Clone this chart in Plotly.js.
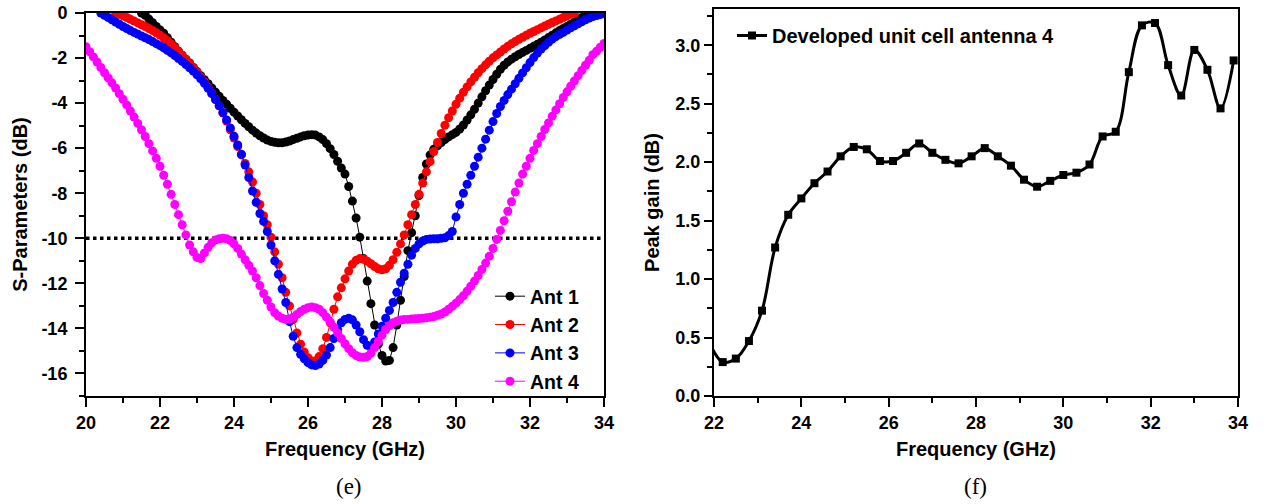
<!DOCTYPE html>
<html>
<head>
<meta charset="utf-8">
<script src="https://cdn.plot.ly/plotly-3.0.1.min.js"></script>
<style>html,body{margin:0;padding:0;background:#fff;}#chart{width:1265px;height:504px;}</style>
</head>
<body>
<div id="chart"></div>
<script>
// ---------- Data: panel (e) S-parameters ----------
const freq = [20.0,20.1,20.2,20.3,20.4,20.5,20.6,20.7,20.8,20.9,
21.0,21.1,21.2,21.3,21.4,21.5,21.6,21.7,21.8,21.9,
22.0,22.1,22.2,22.3,22.4,22.5,22.6,22.7,22.8,22.9,
23.0,23.1,23.2,23.3,23.4,23.5,23.6,23.7,23.8,23.9,
24.0,24.1,24.2,24.3,24.4,24.5,24.6,24.7,24.8,24.9,
25.0,25.1,25.2,25.3,25.4,25.5,25.6,25.7,25.8,25.9,
26.0,26.1,26.2,26.3,26.4,26.5,26.6,26.7,26.8,26.9,
27.0,27.1,27.2,27.3,27.4,27.5,27.6,27.7,27.8,27.9,
28.0,28.1,28.2,28.3,28.4,28.5,28.6,28.7,28.8,28.9,
29.0,29.1,29.2,29.3,29.4,29.5,29.6,29.7,29.8,29.9,
30.0,30.1,30.2,30.3,30.4,30.5,30.6,30.7,30.8,30.9,
31.0,31.1,31.2,31.3,31.4,31.5,31.6,31.7,31.8,31.9,
32.0,32.1,32.2,32.3,32.4,32.5,32.6,32.7,32.8,32.9,
33.0,33.1,33.2,33.3,33.4,33.5,33.6,33.7,33.8,33.9,
34.0];

const ant1 = [null,null,null,null,null,null,null,null,null,null,
null,null,null,null,null,0,-0.1,-0.27,-0.43,-0.6,
-0.75,-0.9,-1.1,-1.3,-1.5,-1.7,-1.88,-2.05,-2.22,-2.42,
-2.6,-2.78,-2.96,-3.14,-3.33,-3.52,-3.7,-3.88,-4.05,-4.23,
-4.4,-4.57,-4.74,-4.9,-5.05,-5.2,-5.33,-5.45,-5.55,-5.64,
-5.7,-5.74,-5.76,-5.76,-5.73,-5.68,-5.62,-5.56,-5.5,-5.45,
-5.42,-5.4,-5.42,-5.5,-5.62,-5.8,-6.02,-6.28,-6.58,-6.88,
-7.15,-7.7,-8.35,-9.1,-9.95,-10.9,-11.9,-12.9,-13.85,-14.7,
-15.2,-15.45,-15.42,-14.85,-13.85,-12.75,-11.7,-10.55,-9.75,-9.0,
-8.1,-7.3,-6.7,-6.3,-6.05,-5.9,-5.75,-5.62,-5.5,-5.4,
-5.3,-5.15,-4.97,-4.75,-4.52,-4.27,-4.0,-3.72,-3.45,-3.2,
-2.95,-2.72,-2.5,-2.32,-2.17,-2.05,-1.94,-1.84,-1.75,-1.66,
-1.57,-1.48,-1.39,-1.3,-1.2,-1.09,-0.99,-0.88,-0.78,-0.69,
-0.6,-0.5,-0.4,-0.3,-0.2,-0.12,-0.05,0,null,null,
null];

const ant2 = [null,null,null,null,null,null,null,null,0,-0.06,
-0.13,-0.2,-0.28,-0.36,-0.44,-0.52,-0.6,-0.69,-0.78,-0.88,
-0.98,-1.1,-1.23,-1.37,-1.53,-1.7,-1.88,-2.06,-2.24,-2.43,
-2.63,-2.84,-3.06,-3.3,-3.56,-3.83,-4.12,-4.44,-4.8,-5.18,
-5.55,-5.93,-6.3,-6.68,-7.05,-7.5,-8.0,-8.5,-9.0,-9.4,
-9.95,-10.6,-11.15,-11.75,-12.4,-13.0,-13.6,-14.2,-14.7,-15.05,
-15.3,-15.45,-15.45,-15.25,-14.9,-14.4,-13.75,-13.15,-12.6,-12.2,
-11.8,-11.45,-11.15,-10.98,-10.9,-10.93,-11.02,-11.13,-11.25,-11.35,
-11.4,-11.35,-11.2,-10.95,-10.62,-10.25,-9.85,-9.4,-8.95,-8.5,
-8.05,-7.55,-7.05,-6.6,-6.15,-5.75,-5.35,-4.98,-4.65,-4.35,
-4.05,-3.78,-3.52,-3.28,-3.06,-2.85,-2.65,-2.47,-2.3,-2.14,
-1.99,-1.86,-1.73,-1.6,-1.48,-1.37,-1.27,-1.17,-1.08,-0.99,
-0.9,-0.82,-0.74,-0.66,-0.58,-0.5,-0.42,-0.35,-0.28,-0.2,
-0.13,-0.06,0,null,null,null,null,null,null,null,
null];

const ant3 = [null,null,null,null,0,-0.1,-0.2,-0.3,-0.4,-0.5,
-0.6,-0.69,-0.78,-0.86,-0.94,-1.02,-1.1,-1.18,-1.27,-1.36,
-1.45,-1.55,-1.66,-1.77,-1.89,-2.02,-2.15,-2.29,-2.43,-2.58,
-2.74,-2.92,-3.12,-3.34,-3.58,-3.84,-4.12,-4.42,-4.75,-5.1,
-5.47,-5.86,-6.27,-6.75,-7.3,-7.9,-8.4,-8.9,-9.25,-9.7,
-10.3,-11.0,-11.6,-12.25,-12.85,-13.7,-14.35,-14.85,-15.15,-15.35,
-15.52,-15.62,-15.65,-15.58,-15.42,-15.18,-14.85,-14.45,-14.05,-13.75,
-13.6,-13.55,-13.62,-13.85,-14.15,-14.5,-14.75,-14.82,-14.6,-14.25,
-13.9,-13.55,-13.2,-12.85,-12.4,-11.95,-11.55,-11.15,-10.75,-10.45,
-10.25,-10.12,-10.05,-10.03,-10.02,-10.02,-10.0,-9.98,-9.88,-9.7,
-9.05,-8.5,-8.0,-7.6,-7.2,-6.8,-6.4,-6.0,-5.6,-5.2,
-4.82,-4.46,-4.15,-3.88,-3.62,-3.38,-3.14,-2.9,-2.66,-2.43,
-2.2,-1.98,-1.78,-1.6,-1.45,-1.3,-1.16,-1.05,-0.95,-0.86,
-0.76,-0.66,-0.57,-0.48,-0.39,-0.3,-0.22,-0.16,-0.11,-0.07,
-0.03];

const ant4 = [-1.5,-1.72,-1.95,-2.18,-2.42,-2.65,-2.88,-3.1,-3.33,-3.58,
-3.83,-4.08,-4.35,-4.62,-4.9,-5.18,-5.48,-5.8,-6.12,-6.45,
-6.8,-7.2,-7.6,-8.05,-8.5,-8.95,-9.4,-9.85,-10.3,-10.6,
-10.85,-10.9,-10.65,-10.4,-10.2,-10.08,-10.02,-10.0,-10.02,-10.1,
-10.25,-10.45,-10.7,-10.95,-11.2,-11.45,-11.75,-12.1,-12.45,-12.75,
-13.05,-13.3,-13.45,-13.55,-13.6,-13.58,-13.5,-13.38,-13.25,-13.15,
-13.08,-13.05,-13.08,-13.15,-13.3,-13.5,-13.72,-13.95,-14.2,-14.45,
-14.68,-14.9,-15.08,-15.2,-15.27,-15.28,-15.25,-15.1,-14.85,-14.58,
-14.3,-14.05,-13.88,-13.75,-13.68,-13.63,-13.6,-13.6,-13.58,-13.57,
-13.56,-13.55,-13.53,-13.5,-13.47,-13.42,-13.36,-13.27,-13.15,-13.02,
-12.88,-12.72,-12.55,-12.35,-12.13,-11.9,-11.65,-11.38,-11.1,-10.8,
-10.45,-10.05,-9.65,-9.22,-8.8,-8.38,-7.95,-7.55,-7.15,-6.8,
-6.45,-6.1,-5.8,-5.48,-5.17,-4.88,-4.58,-4.3,-4.03,-3.75,
-3.5,-3.25,-3.02,-2.78,-2.55,-2.32,-2.1,-1.85,-1.7,-1.52,
-1.35];

const seriesNames = ['Ant 1','Ant 2','Ant 3','Ant 4'];
const seriesColors = ['#000000','#ff0000','#0000ff','#ff00ff'];
const refLevel = -10;

const sTickVals = [0,-2,-4,-6,-8,-10,-12,-14,-16];
const sTickText = ['0','-2','-4','-6','-8','-10','-12','-14','-16'];
const fTickVals = [20,22,24,26,28,30,32,34];

// ---------- Data: panel (f) peak gain ----------
const gainFreq = [21.9,22.2,22.5,22.8,23.1,23.4,23.7,24.0,24.3,24.6,
24.9,25.2,25.5,25.8,26.1,26.4,26.7,27.0,27.3,27.6,
27.9,28.2,28.5,28.8,29.1,29.4,29.7,30.0,30.3,30.6,
30.9,31.2,31.5,31.8,32.1,32.4,32.7,33.0,33.3,33.6,
33.9];
const gain = [0.45,0.29,0.32,0.47,0.73,1.27,1.55,1.69,1.82,1.92,
2.05,2.13,2.11,2.01,2.01,2.08,2.16,2.08,2.02,1.99,
2.05,2.12,2.05,1.97,1.85,1.79,1.84,1.89,1.91,1.98,
2.22,2.26,2.77,3.17,3.19,2.83,2.57,2.96,2.79,2.46,
2.87];
const gainName = 'Developed unit cell antenna 4';
const gTickVals = [22,24,26,28,30,32,34];

// ---------- Build ----------
const FONT = 'Arial, "Liberation Sans", sans-serif';
const W = 1265, H = 504;
const sData = [ant1, ant2, ant3, ant4];

const traces = sData.map((ys, i) => ({
  type: 'scatter', mode: 'lines+markers',
  x: freq, y: ys, name: seriesNames[i],
  xaxis: 'x', yaxis: 'y', legend: 'legend',
  line: {color: seriesColors[i], width: 1},
  marker: {color: seriesColors[i], size: 9, symbol: 'circle', line: {width: 0}},
  connectgaps: false
}));

traces.push({
  type: 'scatter', mode: 'lines+markers',
  x: gainFreq, y: gain, name: gainName,
  xaxis: 'x2', yaxis: 'y2', legend: 'legend2',
  line: {color: '#000', width: 3, shape: 'spline', smoothing: 1},
  marker: {color: '#000', size: 8, symbol: 'square', line: {width: 0}}
});

const tickFont = {family: FONT, size: 18, weight: 'bold', color: '#000'};
const titleFont = {family: FONT, size: 20, weight: 'bold', color: '#000'};
const axisBase = {
  showgrid: false, zeroline: false, showline: true, linecolor: '#000', linewidth: 2,
  mirror: true, ticks: 'outside', ticklen: 9, tickwidth: 2, tickcolor: '#000',
  tickfont: tickFont, automargin: false
};

const layout = {
  width: W, height: H,
  margin: {l: 0, r: 0, t: 0, b: 0},
  paper_bgcolor: '#fff', plot_bgcolor: '#fff',
  font: {family: FONT, color: '#000'},
  showlegend: true,
  xaxis: Object.assign({}, axisBase, {
    domain: [86 / W, 604 / W], range: [20, 34], anchor: 'y',
    tickmode: 'array', tickvals: fTickVals,
    minor: {dtick: 1, tick0: 20, ticks: 'outside', ticklen: 5, tickwidth: 2, tickcolor: '#000'},
    title: {text: 'Frequency (GHz)', font: titleFont, standoff: 10}
  }),
  yaxis: Object.assign({}, axisBase, {
    domain: [1 - 396 / H, 1 - 13 / H], range: [-17, 0], anchor: 'x',
    tickmode: 'array', tickvals: sTickVals, ticktext: sTickText,
    ticklabelstandoff: 4,
    minor: {dtick: 1, tick0: 0, ticks: 'outside', ticklen: 5, tickwidth: 2, tickcolor: '#000'},
    title: {text: 'S-Parameters (dB)', font: titleFont, standoff: 8}
  }),
  xaxis2: Object.assign({}, axisBase, {
    domain: [714 / W, 1238 / W], range: [22, 34], anchor: 'y2',
    tickmode: 'array', tickvals: gTickVals,
    minor: {dtick: 1, tick0: 22, ticks: 'outside', ticklen: 5, tickwidth: 2, tickcolor: '#000'},
    title: {text: 'Frequency (GHz)', font: titleFont, standoff: 10}
  }),
  yaxis2: Object.assign({}, axisBase, {
    domain: [1 - 396 / H, 1 - 9 / H], range: [0, 3.31], anchor: 'x2',
    dtick: 0.5, tick0: 0, tickformat: '.1f', ticklen: 8,
    minor: {dtick: 0.25, ticks: 'outside', ticklen: 5, tickwidth: 2, tickcolor: '#000'},
    title: {text: 'Peak gain (dB)', font: titleFont, standoff: 10}
  }),
  legend: {
    x: 490 / W, xanchor: 'left', y: 1 - 277 / H, yanchor: 'top',
    bgcolor: 'rgba(0,0,0,0)', borderwidth: 0,
    font: {family: FONT, size: 19.5, weight: 'bold', color: '#000'}
  },
  legend2: {
    x: 732 / W, xanchor: 'left', y: 1 - 16 / H, yanchor: 'top',
    bgcolor: 'rgba(0,0,0,0)', borderwidth: 0,
    font: {family: FONT, size: 20, weight: 'bold', color: '#000'}
  },
  shapes: [{
    type: 'line', xref: 'x', yref: 'y', x0: 20, x1: 34, y0: refLevel, y1: refLevel,
    layer: 'below', line: {color: '#000', width: 3.5, dash: 'dot'}
  }],
  annotations: [
    {text: '(e)', xref: 'paper', yref: 'paper', x: 349 / W, y: 1 - 486 / H,
     xanchor: 'center', yanchor: 'middle', showarrow: false,
     font: {family: '"Times New Roman", "Liberation Serif", serif', size: 23, color: '#000'}},
    {text: '(f)', xref: 'paper', yref: 'paper', x: 975 / W, y: 1 - 486 / H,
     xanchor: 'center', yanchor: 'middle', showarrow: false,
     font: {family: '"Times New Roman", "Liberation Serif", serif', size: 23, color: '#000'}}
  ]
};

Plotly.newPlot('chart', traces, layout, {staticPlot: true, displayModeBar: false});
</script>
</body>
</html>
